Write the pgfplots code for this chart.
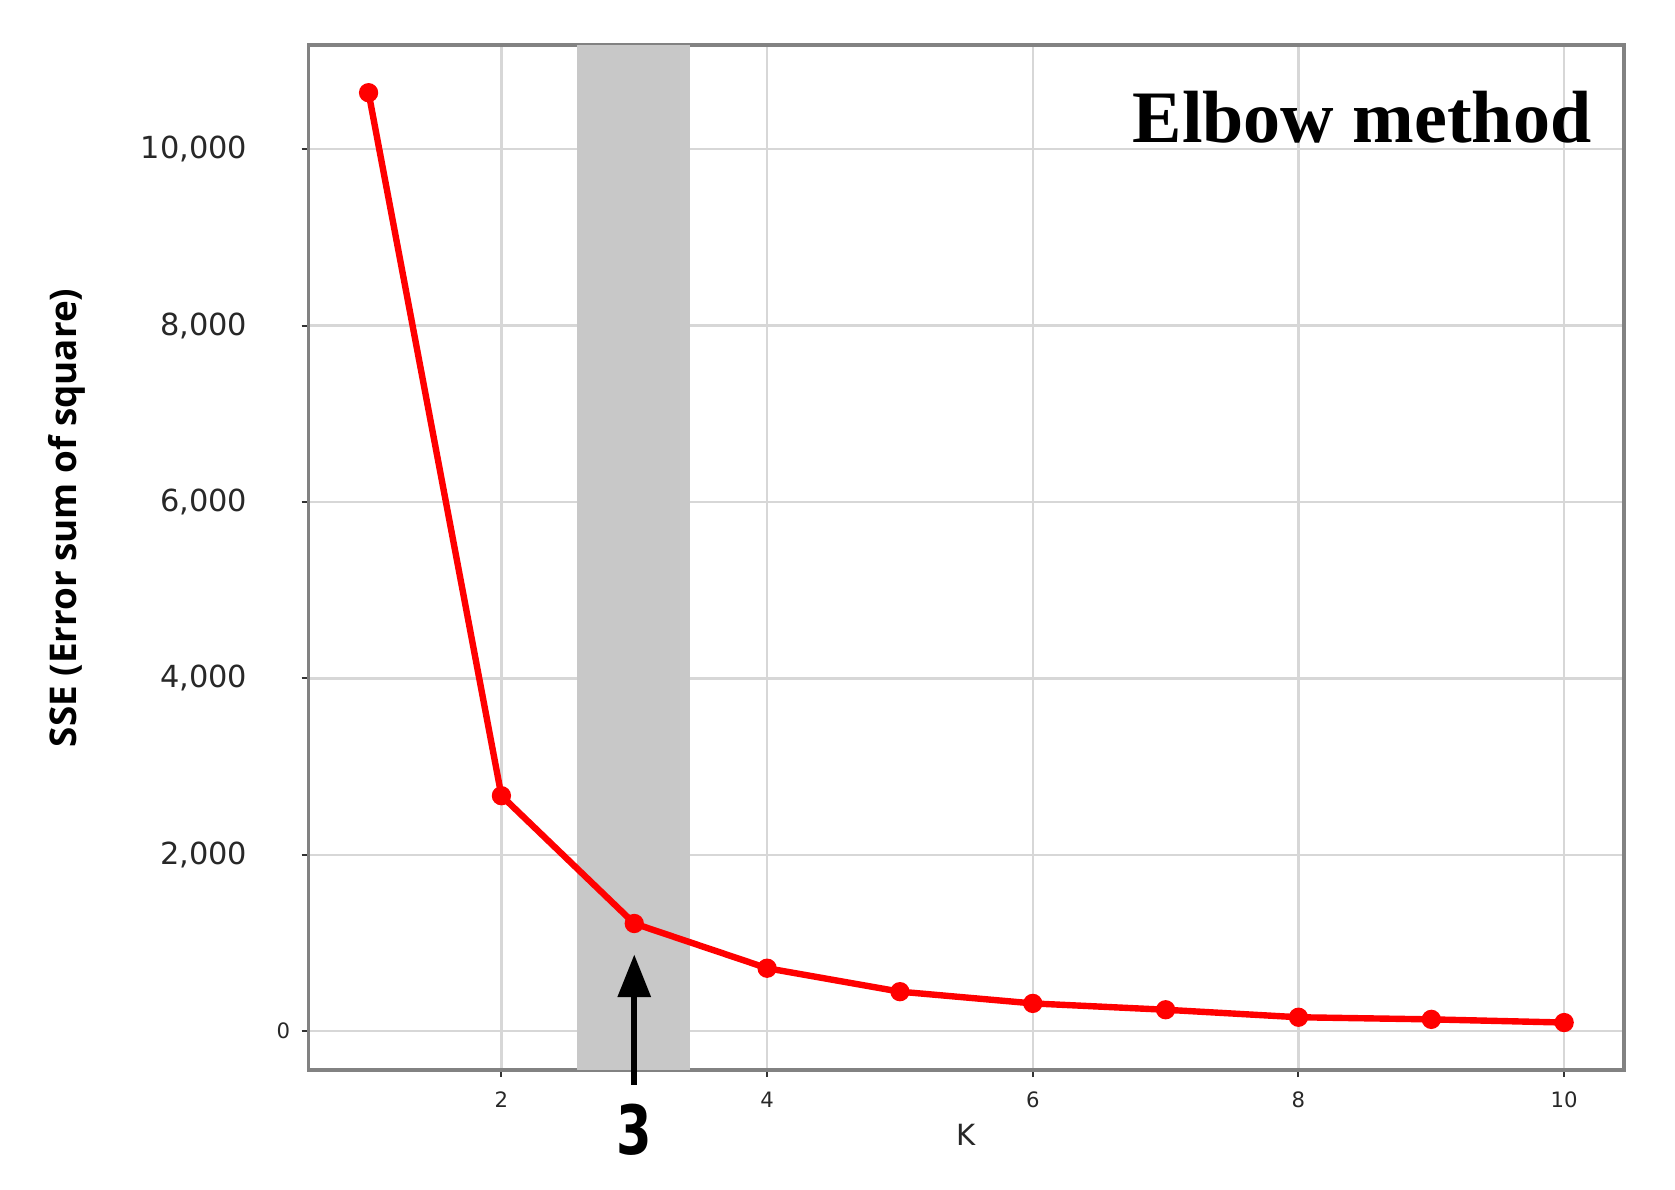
\documentclass[border=0pt]{standalone}
\usepackage{fontspec}
\setmainfont{DejaVu Sans}
\newfontfamily\titlefont{Liberation Serif}
\newfontfamily\labfont{Open Sans}
\usepackage{graphicx}
\usepackage{pgfplots}
\pgfplotsset{compat=1.18}
\usetikzlibrary{arrows.meta}
\definecolor{gridgray}{RGB}{215,215,215}
\definecolor{framegray}{RGB}{130,130,130}
\definecolor{bandgray}{RGB}{200,200,200}
\definecolor{ticktext}{RGB}{40,40,40}
\begin{document}
\begin{tikzpicture}
\begin{axis}[
  set layers=standard,
  scale only axis,
  width=328.8pt, height=256.25pt,
  xmin=0.55, xmax=10.45, ymin=-441, ymax=11181,
  xtick={2,4,6,8,10},
  xticklabels={2,4,6,8,10},
  ytick={0,2000,4000,6000,8000,10000},
  yticklabels={{\fontsize{5.3}{6}\selectfont 0\hspace*{2.7pt}},{2,000\hspace*{13.4pt}},{4,000\hspace*{13.4pt}},{6,000\hspace*{13.4pt}},{8,000\hspace*{13.4pt}},{10,000\hspace*{13.4pt}}},
  scaled y ticks=false,
  tick pos=left,
  grid=major,
  major grid style={gridgray, line width=0.6pt},
  axis line style={framegray, line width=0.8pt},
  tick align=outside,
  major tick length=1.8pt,
  tick style={black!80, line width=0.5pt},
  xticklabel style={font=\fontsize{5.3}{6}\selectfont, text=ticktext, inner sep=0pt, yshift=-3.5pt},
  yticklabel style={font=\fontsize{7.6}{9}\selectfont, text=ticktext, inner sep=0pt, anchor=east},
  clip=false,
  xlabel={K},
  xlabel style={at={(axis description cs:0.5,-0.0634)}, anchor=center, font=\fontsize{7.3}{9}\selectfont, text=ticktext},
  ylabel={SSE (Error sum of square)},
  ylabel style={at={(axis description cs:-0.1837,0.5386)}, anchor=center, font=\labfont\bfseries\fontsize{9.2}{11}\selectfont},
]
\fill[bandgray, on layer=axis background] (axis cs:2.57,-441) rectangle (axis cs:3.42,11181);
\addplot[red, line width=1.6pt, mark=*, mark size=1.6pt, mark options={solid, fill=red}]
  coordinates {(1,10640)(2,2669)(3,1220)(4,713)(5,447)(6,314)(7,242)(8,157)(9,133)(10,97)};
\draw[black, line width=1.6pt, -{Triangle[length=10.7pt,width=8pt]}] (axis cs:3,-610) -- (axis cs:3,870);
\node[font=\bfseries\fontsize{17}{20}\selectfont, anchor=center] at (axis cs:3,-1119) {\scalebox{0.75}[1]{3}};
\node[anchor=base east, font=\titlefont\bfseries\fontsize{18.5}{22}\selectfont, inner sep=0pt] at (axis cs:10.21,10073) {Elbow method};
\end{axis}
\pgfresetboundingbox
\useasboundingbox (-77.2pt,-30pt) rectangle (341.55pt,267.5pt);
\end{tikzpicture}
\end{document}
